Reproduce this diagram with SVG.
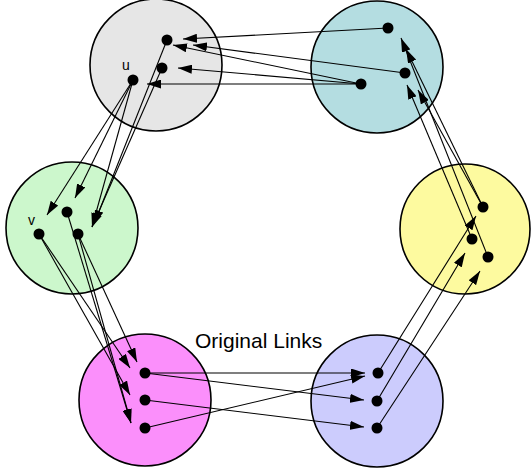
<svg xmlns="http://www.w3.org/2000/svg" width="531" height="475" viewBox="0 0 531 475">
<defs>
<style>
.c{stroke:#000;stroke-width:1.6}
.d{fill:#000}
.e{stroke:#000;stroke-width:1.1;fill:none;marker-end:url(#ah)}
.lbl{font-family:"Liberation Sans",Arial,sans-serif;fill:#000}
</style>
<marker id="ah" markerUnits="userSpaceOnUse" markerWidth="14" markerHeight="9" refX="14" refY="4.5" orient="auto">
<path d="M0,0 L14,4.5 L0,9 z" fill="#000"/>
</marker>
</defs>
<rect width="531" height="475" fill="#fff"/>
<g id="grey">
<circle class="c" cx="156" cy="65" r="66" fill="#e6e6e6"/>
<circle class="d" cx="167" cy="40" r="5.5"/>
<circle class="d" cx="162" cy="68" r="5.5"/>
<circle class="d" cx="133" cy="80" r="5.5"/>
<text class="lbl" x="122" y="70" font-size="14">u</text>
</g>
<g id="teal">
<circle class="c" cx="377" cy="67" r="66" fill="#b4dde1"/>
<circle class="d" cx="388" cy="28" r="5.5"/>
<circle class="d" cx="405" cy="73" r="5.5"/>
<circle class="d" cx="361" cy="84" r="5.5"/>
</g>
<g id="green">
<circle class="c" cx="72" cy="228" r="66" fill="#ccf7cc"/>
<circle class="d" cx="67" cy="212" r="5.5"/>
<circle class="d" cx="39" cy="234" r="5.5"/>
<circle class="d" cx="78" cy="234" r="5.5"/>
<text class="lbl" x="28" y="225" font-size="14">v</text>
</g>
<g id="yellow">
<circle class="c" cx="465" cy="229" r="65" fill="#fdfa9f"/>
<circle class="d" cx="483" cy="207" r="5.5"/>
<circle class="d" cx="472" cy="239" r="5.5"/>
<circle class="d" cx="488" cy="257" r="5.5"/>
</g>
<g id="pink">
<circle class="c" cx="145" cy="400" r="66" fill="#fb8ffb"/>
<circle class="d" cx="145" cy="373" r="5.5"/>
<circle class="d" cx="145" cy="400" r="5.5"/>
<circle class="d" cx="145" cy="428" r="5.5"/>
</g>
<g id="lavender">
<circle class="c" cx="377" cy="401" r="66" fill="#ccccfd"/>
<circle class="d" cx="378" cy="373" r="5.5"/>
<circle class="d" cx="377" cy="401" r="5.5"/>
<circle class="d" cx="377" cy="428" r="5.5"/>
</g>
<g id="connectors">
<line class="e" x1="388" y1="28" x2="183" y2="39"/>
<line class="e" x1="405" y1="73" x2="193" y2="45"/>
<line class="e" x1="361" y1="84" x2="173" y2="45"/>
<line class="e" x1="361" y1="84" x2="178" y2="68"/>
<line class="e" x1="361" y1="84" x2="147" y2="84"/>
<line class="e" x1="133" y1="80" x2="47" y2="215"/>
<line class="e" x1="133" y1="80" x2="75" y2="198"/>
<line class="e" x1="133" y1="80" x2="92" y2="227"/>
<line class="e" x1="162" y1="68" x2="92" y2="227"/>
<line class="e" x1="167" y1="40" x2="94" y2="224"/>
<line class="e" x1="39" y1="234" x2="130" y2="368"/>
<line class="e" x1="39" y1="234" x2="130" y2="395"/>
<line class="e" x1="67" y1="212" x2="131" y2="423"/>
<line class="e" x1="78" y1="234" x2="131" y2="423"/>
<line class="e" x1="78" y1="234" x2="137" y2="362"/>
<line class="e" x1="145" y1="373" x2="365" y2="373"/>
<line class="e" x1="145" y1="373" x2="364" y2="400"/>
<line class="e" x1="145" y1="400" x2="364" y2="427"/>
<line class="e" x1="145" y1="428" x2="365" y2="376"/>
<line class="e" x1="378" y1="373" x2="476" y2="216"/>
<line class="e" x1="377" y1="401" x2="465" y2="253"/>
<line class="e" x1="377" y1="428" x2="480" y2="271"/>
<line class="e" x1="488" y1="257" x2="401" y2="38"/>
<line class="e" x1="483" y1="207" x2="406" y2="49"/>
<line class="e" x1="472" y1="239" x2="407" y2="85"/>
<line class="e" x1="483" y1="207" x2="418" y2="90"/>
</g>
<text class="lbl" x="195" y="348" font-size="21">Original Links</text>
</svg>
